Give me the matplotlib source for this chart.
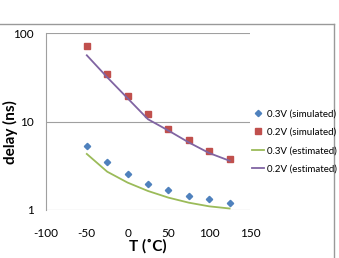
import numpy as np
import matplotlib.pyplot as plt
from matplotlib.lines import Line2D

plt.rcParams['font.family'] = ['Lato', 'DejaVu Sans']

# ----- data -----
temps = [-50, -25, 0, 25, 50, 75, 100, 125]
sim_03 = [5.3, 3.46, 2.53, 1.98, 1.67, 1.45, 1.32, 1.2]
sim_02 = [72, 34.7, 19.4, 12.1, 8.2, 6.1, 4.6, 3.8]
est_03 = [4.3, 2.71, 2.04, 1.64, 1.38, 1.21, 1.10, 1.04]
est_02 = [56, 31.6, 18.3, 10.6, 7.9, 5.8, 4.4, 3.6]

x_ticks = [-100, -50, 0, 50, 100, 150]
y_ticks = [1, 10, 100]

C_BLUE = "#4F81BD"
C_RED = "#C0504D"
C_GREEN = "#9BBB59"
C_PURPLE = "#8064A2"

fig = plt.figure(figsize=(3.39, 2.58), dpi=100)

ax = fig.add_axes([46 / 339, 1 - 210 / 258, 204 / 339, 177 / 258])

ax.plot(temps, sim_03, linestyle="none", marker="D", markersize=3.2,
        color=C_BLUE, label="0.3V (simulated)")
ax.plot(temps, sim_02, linestyle="none", marker="s", markersize=4.5,
        color=C_RED, label="0.2V (simulated)")
ax.plot(temps, est_03, color=C_GREEN, linewidth=1.3, label="0.3V (estimated)")
ax.plot(temps, est_02, color=C_PURPLE, linewidth=1.3, label="0.2V (estimated)")

ax.set_yscale("log")
ax.set_xlim(-100, 150)
ax.set_ylim(1, 100)
ax.set_xticks(x_ticks)
ax.set_xticklabels([str(t) for t in x_ticks])
ax.set_yticks(y_ticks)
ax.set_yticklabels([str(t) for t in y_ticks])
ax.yaxis.set_minor_locator(plt.NullLocator())
ax.tick_params(length=0, labelsize=8.5)
ax.tick_params(axis="y", pad=9)
ax.tick_params(axis="x", pad=13)

for s in ["top", "right", "bottom"]:
    ax.spines[s].set_visible(False)
ax.spines["left"].set_color("#A0A0A0")
ax.spines["left"].set_linewidth(0.8)
ax.grid(True, axis="y", color="#A0A0A0", linewidth=0.8)
ax.set_axisbelow(True)

# outer chart frame: top edge (y=24px) and right edge (x=334px) of the crop
fx = 1 - 5 / 339
fy = 1 - 24 / 258
ax.add_line(Line2D([0, fx], [fy, fy], transform=fig.transFigure,
                   color="#999999", linewidth=1.0, clip_on=False))
ax.add_line(Line2D([fx, fx], [0, fy], transform=fig.transFigure,
                   color="#999999", linewidth=1.0, clip_on=False))

fig.text(148 / 339, 1 - 246 / 258, "T (˚C)", fontsize=11, fontweight="bold",
         ha="center", va="center")
fig.text(10 / 339, 1 - 132 / 258, "delay (ns)", fontsize=11, fontweight="bold",
         ha="center", va="center", rotation=90)

ax.legend(loc="center left", bbox_to_anchor=(0.99, 0.387), frameon=False,
          fontsize=7, handlelength=1.3, handletextpad=0.3,
          labelspacing=0.95, borderaxespad=0)

plt.savefig("out.png", dpi=100)
